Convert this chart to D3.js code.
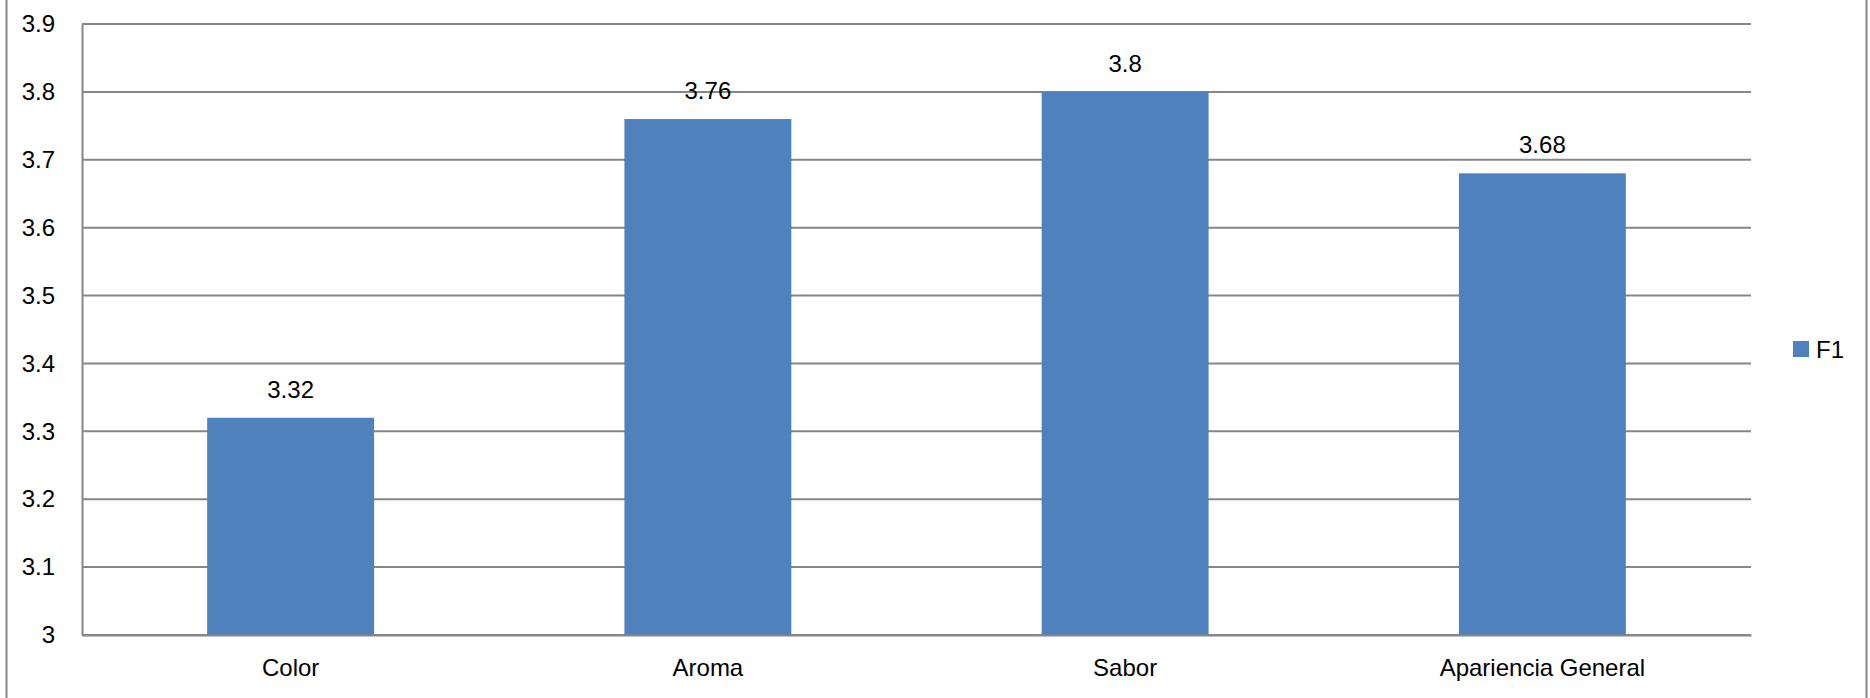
<!DOCTYPE html>
<html>
<head>
<meta charset="utf-8">
<script src="https://cdn.jsdelivr.net/npm/d3@7"></script>
<style>
  html, body { margin: 0; padding: 0; background: #fff; }
  svg text { font-family: "Liberation Sans", Arial, sans-serif; fill: #000; }
</style>
</head>
<body>
<script>
// Sensory evaluation scores for sample F1
const categories = ["Color", "Aroma", "Sabor", "Apariencia General"];
const f1Values = [3.32, 3.76, 3.8, 3.68];
const yTicks = [3, 3.1, 3.2, 3.3, 3.4, 3.5, 3.6, 3.7, 3.8, 3.9];
const seriesName = "F1";

const W = 1870, H = 698;
const plot = { left: 82, right: 1751, top: 24, bottom: 635 };
const gridColor = "#868686";
const barColor = "#4f81bd";
const fontSize = 24;

const svg = d3.select("body").append("svg")
  .attr("width", W).attr("height", H);

// chart frame
svg.append("rect")
  .attr("x", 6.5).attr("y", -10)
  .attr("width", 1860).attr("height", H + 20)
  .attr("fill", "none").attr("stroke", gridColor).attr("stroke-width", 2);

const x = d3.scaleBand()
  .domain(categories)
  .range([plot.left, plot.right])
  .paddingInner(0.6).paddingOuter(0.3);

const y = d3.scaleLinear()
  .domain([3, 3.9])
  .range([plot.bottom, plot.top]);

// horizontal gridlines
svg.append("g")
  .selectAll("line")
  .data(yTicks)
  .join("line")
  .attr("x1", plot.left).attr("x2", plot.right)
  .attr("y1", d => y(d)).attr("y2", d => y(d))
  .attr("stroke", gridColor).attr("stroke-width", 2);

// y axis
const yAxis = svg.append("g")
  .attr("transform", `translate(${plot.left},0)`)
  .call(d3.axisLeft(y).tickValues(yTicks).tickSize(0).tickPadding(27)
    .tickFormat(d => String(+d.toFixed(1))));
yAxis.select(".domain").attr("stroke", gridColor).attr("stroke-width", 2);
yAxis.selectAll("text").attr("font-size", fontSize);

// bars
svg.append("g")
  .selectAll("rect")
  .data(categories)
  .join("rect")
  .attr("x", d => x(d))
  .attr("width", x.bandwidth())
  .attr("y", (d, i) => y(f1Values[i]))
  .attr("height", (d, i) => y(3) - y(f1Values[i]))
  .attr("fill", barColor);

// value labels
svg.append("g")
  .selectAll("text")
  .data(categories)
  .join("text")
  .attr("x", d => x(d) + x.bandwidth() / 2)
  .attr("y", (d, i) => y(f1Values[i]) - 20)
  .attr("text-anchor", "middle")
  .attr("font-size", fontSize)
  .text((d, i) => f1Values[i]);

// x axis
const xAxis = svg.append("g")
  .attr("transform", `translate(0,${plot.bottom})`)
  .call(d3.axisBottom(x).tickSize(0).tickPadding(24));
xAxis.select(".domain").attr("stroke", gridColor).attr("stroke-width", 2);
xAxis.selectAll("text").attr("font-size", fontSize);

// legend
const legend = svg.append("g").attr("transform", "translate(1793,341)");
legend.append("rect").attr("width", 16).attr("height", 16).attr("fill", barColor);
legend.append("text").attr("x", 23).attr("y", 8).attr("dy", "0.36em")
  .attr("font-size", fontSize).text(seriesName);
</script>
</body>
</html>
